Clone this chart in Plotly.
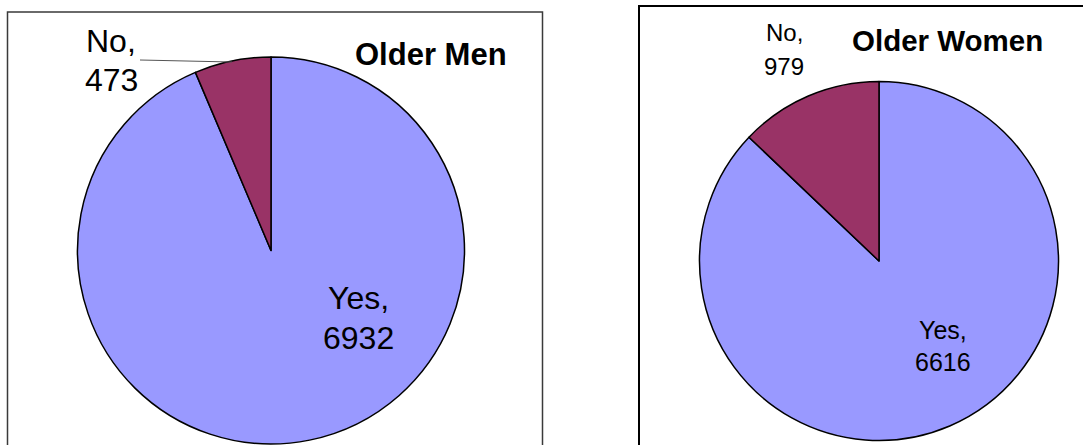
import plotly.graph_objects as go

W, H = 1083, 445

labels = ["Yes", "No"]
men_values = [6932, 473]
women_values = [6616, 979]
titles = ["Older Men", "Older Women"]
colors = ["#9999FF", "#993366"]

FONT = "Liberation Sans, Arial, sans-serif"


def px_x(x):
    return x / W


def px_y(y):
    return 1 - y / H


fig = go.Figure()

# Left pie: center (271, 250.5), r 193.5
fig.add_trace(go.Pie(
    labels=labels, values=men_values, sort=False, direction="clockwise", rotation=0,
    marker=dict(colors=colors, line=dict(color="black", width=1.5)),
    textinfo="none", hoverinfo="label+value", showlegend=False,
    domain=dict(x=[px_x(271 - 193.5), px_x(271 + 193.5)], y=[px_y(444), px_y(57)]),
))

# Right pie: center (879, 261), r 179.5
fig.add_trace(go.Pie(
    labels=labels, values=women_values, sort=False, direction="clockwise", rotation=0,
    marker=dict(colors=colors, line=dict(color="black", width=1.5)),
    textinfo="none", hoverinfo="label+value", showlegend=False,
    domain=dict(x=[px_x(879 - 179.5), px_x(879 + 179.5)], y=[px_y(440.5), px_y(81.5)]),
))

annotations = []


def label_pair(lab, val, x, y1, y2, size):
    annotations.append(dict(x=px_x(x), y=px_y(y1), xref="paper", yref="paper",
                            text=f"{lab},", showarrow=False,
                            font=dict(family=FONT, size=size, color="black"),
                            xanchor="center", yanchor="middle"))
    annotations.append(dict(x=px_x(x), y=px_y(y2), xref="paper", yref="paper",
                            text=f"{val}", showarrow=False,
                            font=dict(family=FONT, size=size, color="black"),
                            xanchor="center", yanchor="middle"))


# Left panel labels
label_pair(labels[1], men_values[1], 111, 41, 80, 32)
label_pair(labels[0], men_values[0], 358, 298, 338, 32)
# Right panel labels
label_pair(labels[1], women_values[1], 784, 32, 66, 24)
label_pair(labels[0], women_values[0], 943, 330, 362, 25)

annotations.append(dict(x=px_x(431), y=px_y(55), xref="paper", yref="paper",
                        text=f"<b>{titles[0]}</b>", showarrow=False,
                        font=dict(family=FONT, size=31, color="black"),
                        xanchor="center", yanchor="middle"))
annotations.append(dict(x=px_x(947), y=px_y(41), xref="paper", yref="paper",
                        text=f"<b>{titles[1]}</b>", showarrow=False,
                        font=dict(family=FONT, size=29.5, color="black"),
                        xanchor="center", yanchor="middle"))

shapes = [
    # left panel border
    dict(type="rect", xref="paper", yref="paper",
         x0=px_x(7.5), x1=px_x(542.5), y0=-0.1, y1=px_y(12),
         line=dict(color="#3a3a3a", width=1.5), fillcolor="rgba(0,0,0,0)", layer="above"),
    # right panel border
    dict(type="rect", xref="paper", yref="paper",
         x0=px_x(639), x1=1.05, y0=-0.1, y1=px_y(6),
         line=dict(color="black", width=2), fillcolor="rgba(0,0,0,0)", layer="above"),
    # leader line for "No" label on left pie
    dict(type="line", xref="paper", yref="paper",
         x0=px_x(140), y0=px_y(60), x1=px_x(232), y1=px_y(62),
         line=dict(color="#555555", width=1)),
]

fig.update_layout(
    width=W, height=H,
    margin=dict(l=0, r=0, t=0, b=0),
    paper_bgcolor="white", plot_bgcolor="white",
    annotations=annotations, shapes=shapes,
    font=dict(family=FONT),
)

fig.write_html("out.html",
               config={"displayModeBar": False},
               post_script="document.body.style.margin='0';document.body.style.overflow='hidden';")
